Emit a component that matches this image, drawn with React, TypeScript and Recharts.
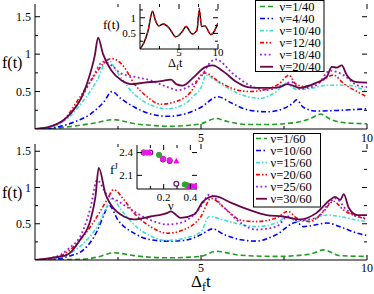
import React from 'react';
import { LineChart, Line, XAxis, YAxis, ScatterChart, Scatter } from 'recharts';

type Pt = { x: number; y: number };
const pts = (a: number[][]): Pt[] => a.map(([x, y]) => ({ x, y }));

// upper panel, nu = n/40
const top1 = pts([[0,0],[0.6,0.01],[1.2,0.04],[1.8,0.08],[2.37,0.125],[2.7,0.1],[3.0,0.07],[3.5,0.05],[4.0,0.036],[4.5,0.045],[5.0,0.07],[5.45,0.14],[5.8,0.1],[6.4,0.06],[7.0,0.06],[7.5,0.07],[8.0,0.1],[8.3,0.14],[8.6,0.2],[8.9,0.13],[9.2,0.09],[9.6,0.075],[10,0.07]]);
const top4 = pts([[0,0],[0.6,0.02],[1.16,0.09],[1.67,0.2],[2.07,0.36],[2.32,0.5],[2.58,0.41],[3.0,0.29],[3.5,0.2],[4.0,0.17],[4.5,0.2],[5.0,0.29],[5.5,0.43],[5.95,0.34],[6.46,0.25],[7.0,0.23],[7.47,0.27],[7.75,0.34],[7.88,0.39],[8.08,0.29],[8.48,0.24],[9.2,0.25],[10,0.27]]);
const top10 = pts([[0,0],[0.6,0.04],[1.0,0.15],[1.46,0.38],[1.87,0.65],[2.19,0.93],[2.47,0.76],[2.98,0.47],[3.48,0.32],[3.99,0.27],[4.49,0.33],[4.8,0.45],[5.0,0.55],[5.15,0.72],[5.4,0.66],[5.76,0.56],[6.26,0.45],[6.77,0.41],[7.27,0.5],[7.55,0.61],[7.88,0.53],[8.28,0.54],[8.79,0.585],[9.39,0.585],[10,0.5]]);
const top12 = pts([[0,0],[0.5,0.04],[0.86,0.12],[1.36,0.43],[1.77,0.7],[2.07,0.88],[2.32,0.94],[2.68,0.83],[2.98,0.61],[3.38,0.43],[3.79,0.33],[4.19,0.36],[4.7,0.5],[5.0,0.72],[5.1,0.75],[5.55,0.63],[5.95,0.54],[6.46,0.5],[6.97,0.53],[7.37,0.61],[7.65,0.72],[7.83,0.61],[8.08,0.57],[8.58,0.63],[8.99,0.72],[9.29,0.61],[9.7,0.5],[10,0.43]]);
const top18 = pts([[0,0],[0.6,0.05],[1.0,0.17],[1.4,0.42],[1.75,0.7],[2.05,0.9],[2.3,0.85],[2.6,0.74],[2.98,0.7],[3.48,0.65],[3.99,0.56],[4.3,0.52],[4.6,0.56],[5.0,0.7],[5.3,0.9],[5.45,0.93],[5.96,0.74],[6.46,0.585],[6.97,0.52],[7.47,0.585],[7.72,0.63],[7.98,0.54],[8.48,0.585],[8.89,0.78],[9.29,0.72],[9.7,0.585],[10,0.56]]);
const top20 = pts([[0,0],[0.5,0.04],[0.8,0.1],[1.1,0.22],[1.4,0.42],[1.65,0.72],[1.8,0.98],[1.9,1.22],[2.05,1.0],[2.3,0.78],[2.6,0.65],[2.9,0.6],[3.3,0.62],[3.8,0.64],[4.1,0.66],[4.25,0.6],[4.45,0.58],[4.8,0.7],[5.1,0.82],[5.35,0.85],[5.7,0.76],[6.06,0.63],[6.4,0.56],[6.67,0.55],[7.1,0.55],[7.37,0.56],[7.6,0.6],[7.98,0.55],[8.48,0.62],[8.79,0.7],[8.94,0.83],[9.09,0.82],[9.24,0.85],[9.39,0.72],[9.65,0.63],[10,0.62]]);

// lower panel, nu = n/60
const bot1 = pts([[0,0],[1.0,0.005],[1.46,0.01],[1.87,0.04],[2.37,0.1],[2.98,0.06],[3.99,0.03],[5.0,0.05],[5.45,0.12],[6.2,0.065],[7.27,0.05],[8.28,0.08],[8.69,0.14],[9.18,0.06],[10,0.05]]);
const bot10 = pts([[0,0],[0.6,0.01],[1.0,0.05],[1.46,0.14],[1.87,0.4],[2.1,0.65],[2.22,0.76],[2.5,0.55],[2.98,0.37],[3.48,0.28],[3.99,0.26],[4.49,0.27],[5.0,0.35],[5.35,0.43],[5.7,0.35],[6.2,0.28],[6.66,0.26],[7.27,0.35],[7.88,0.52],[8.08,0.46],[8.28,0.47],[8.79,0.51],[9.29,0.44],[9.7,0.37],[10,0.34]]);
const bot15 = pts([[0,0],[0.6,0.02],[1.0,0.08],[1.46,0.23],[1.87,0.46],[2.17,0.74],[2.32,0.85],[2.58,0.7],[2.98,0.49],[3.48,0.33],[3.99,0.27],[4.49,0.3],[5.0,0.39],[5.25,0.6],[5.7,0.55],[6.2,0.49],[6.66,0.46],[7.27,0.51],[7.62,0.6],[7.88,0.53],[8.28,0.55],[8.79,0.62],[9.18,0.6],[9.7,0.55],[10,0.53]]);
const bot20 = pts([[0,0],[0.6,0.03],[1.0,0.12],[1.46,0.33],[1.87,0.6],[2.17,0.83],[2.37,0.97],[2.68,0.83],[2.98,0.65],[3.48,0.46],[3.99,0.37],[4.49,0.42],[5.0,0.6],[5.3,0.85],[5.7,0.72],[6.2,0.55],[6.66,0.53],[7.27,0.58],[7.62,0.67],[7.88,0.58],[8.28,0.53],[8.69,0.67],[8.99,0.81],[9.29,0.69],[9.7,0.6],[10,0.56]]);
const bot25 = pts([[0,0],[0.6,0.04],[1.0,0.15],[1.46,0.42],[1.67,0.72],[1.87,1.1],[2.17,0.9],[2.47,0.82],[2.98,0.67],[3.48,0.55],[3.99,0.49],[4.49,0.53],[5.0,0.74],[5.25,0.9],[5.7,0.72],[6.2,0.51],[6.66,0.42],[7.27,0.46],[7.62,0.6],[7.88,0.55],[8.48,0.58],[8.89,0.8],[9.04,0.85],[9.39,0.69],[9.7,0.6],[10,0.58]]);
const bot30 = pts([[0,0],[0.5,0.03],[0.96,0.07],[1.36,0.28],[1.67,0.55],[1.82,0.87],[1.92,1.27],[2.13,0.9],[2.32,0.74],[2.68,0.6],[2.98,0.56],[3.48,0.6],[3.99,0.65],[4.09,0.67],[4.39,0.58],[4.8,0.63],[5.05,0.8],[5.4,0.88],[5.95,0.78],[6.46,0.69],[6.97,0.62],[7.47,0.6],[7.98,0.56],[8.48,0.65],[8.89,0.83],[9.04,0.87],[9.2,0.83],[9.3,0.91],[9.45,0.72],[9.7,0.62],[10,0.62]]);

// inset of the upper panel
const insetExact = pts([[0,0],[0.5,0.2],[1.0,0.55],[1.6,1.2],[2.0,0.9],[2.4,0.74],[3.0,0.8],[3.7,0.68],[4.6,0.39],[5.4,0.55],[5.9,0.72],[6.7,0.48],[7.3,0.6],[7.6,1.25],[7.9,0.72],[8.3,0.74],[9.1,0.46],[10,0.83]]);
const insetApprox = pts([[0,0],[0.5,0.2],[1.0,0.55],[1.6,1.21],[2.0,0.9],[2.4,0.74],[3.0,0.8],[3.7,0.68],[4.6,0.39],[5.4,0.55],[5.9,0.72],[6.7,0.48],[7.3,0.6],[7.6,1.3],[7.9,0.72],[8.3,0.74],[9.1,0.46],[10,0.83]]);

// inset of the lower panel: f^J against nu
const fjFilled = pts([[0.05,2.4],[0.075,2.4],[0.195,2.32],[0.245,2.3],[0.4,1.96],[0.445,1.96]]);
const fjOpen = pts([[0.05,2.4],[0.1,2.4],[0.195,2.31],[0.245,2.29],[0.295,1.99],[0.45,1.96]]);
const fjGreen = pts([[0.165,2.37],[0.358,1.98],[0.375,1.97]]);
const fjTriangle = pts([[0.095,2.4],[0.295,2.29],[0.39,1.95],[0.42,1.96]]);

const topLabels = ['1/40', '4/40', '10/40', '12/40', '18/40', '20/40'];
const botLabels = ['1/60', '10/60', '15/60', '20/60', '25/60', '30/60'];

const styles = [
  { color: '#1f9e1f', dash: '5 3', width: 1.6 },
  { color: '#0000ff', dash: '5 2.5 1.5 2.5', width: 1.6 },
  { color: '#40e0d0', dash: '4 2 1.5 2', width: 1.6 },
  { color: '#ff0000', dash: '4 2 1.5 2 1.5 2', width: 1.6 },
  { color: '#9a1ee0', dash: '1.8 2.6', width: 1.8 },
  { color: '#670748', dash: undefined, width: 1.8 },
];

const topSeries = [top1, top4, top10, top12, top18, top20];
const botSeries = [bot1, bot10, bot15, bot20, bot25, bot30];

const FONT = '"Liberation Serif", "DejaVu Serif", serif';

const xTick = (pTop: number, pBot: number, labels: number[], labelY: number, fs: number) => (p: any) => {
  const v = p.payload.value;
  const major = labels.includes(v);
  const len = major ? 5 : 3;
  return (
    <g>
      <line x1={p.x} x2={p.x} y1={pBot} y2={pBot - len} stroke="#000" />
      <line x1={p.x} x2={p.x} y1={pTop} y2={pTop + len} stroke="#000" />
      {major && (
        <text x={p.x} y={labelY} textAnchor="middle" fontSize={fs} fontFamily={FONT} fill="#000">{v}</text>
      )}
    </g>
  );
};

const yTick = (pLeft: number, pRight: number, labels: number[], fs: number) => (p: any) => {
  const v = p.payload.value;
  const major = labels.includes(v);
  const len = major ? 5 : 3;
  return (
    <g>
      <line x1={pLeft} x2={pLeft + len} y1={p.y} y2={p.y} stroke="#000" />
      <line x1={pRight} x2={pRight - len} y1={p.y} y2={p.y} stroke="#000" />
      {major && (
        <text x={pLeft - 4} y={p.y + fs * 0.35} textAnchor="end" fontSize={fs} fontFamily={FONT} fill="#000">{v}</text>
      )}
    </g>
  );
};

function Panel({ series, yMax, height, xAxisH, labelY }: { series: Pt[][]; yMax: number; height: number; xAxisH: number; labelY: number }) {
  const pTop = 4;
  const pBot = height - xAxisH;
  return (
    <LineChart width={374} height={height} margin={{ top: pTop, right: 7, left: 0, bottom: 0 }}>
      <XAxis type="number" dataKey="x" domain={[0, 10]} ticks={[2.5, 5, 7.5, 10]} interval={0} height={xAxisH}
        allowDataOverflow axisLine={{ stroke: '#000' }} tickLine={false} tick={xTick(pTop, pBot, [5, 10], labelY, 12)} />
      <XAxis xAxisId="top" orientation="top" type="number" domain={[0, 10]} height={0} tick={false} tickLine={false}
        axisLine={{ stroke: '#000' }} />
      <YAxis type="number" domain={[0, yMax]} ticks={[0.25, 0.5, 0.75, 1, 1.25, 1.5]} interval={0} width={35}
        allowDataOverflow axisLine={{ stroke: '#000' }} tickLine={false} tick={yTick(35, 367, [0.5, 1, 1.5], 12)} />
      <YAxis yAxisId="right" orientation="right" type="number" domain={[0, yMax]} width={0} tick={false}
        tickLine={false} axisLine={{ stroke: '#000' }} />
      {series.map((d, i) => (
        <Line key={i} data={d} dataKey="y" type="monotone" dot={false} isAnimationActive={false}
          stroke={styles[i].color} strokeWidth={styles[i].width} strokeDasharray={styles[i].dash} />
      ))}
    </LineChart>
  );
}

function TopInset() {
  return (
    <LineChart width={130} height={70} margin={{ top: 4, right: 12, left: 0, bottom: 0 }}>
      <XAxis type="number" dataKey="x" domain={[0, 10]} ticks={[2.5, 5, 7.5, 10]} interval={0} height={21}
        allowDataOverflow axisLine={{ stroke: '#000' }} tickLine={false} tick={xTick(4, 49, [5, 10], 56, 11)} />
      <XAxis xAxisId="top" orientation="top" type="number" domain={[0, 10]} height={0} tick={false} tickLine={false}
        axisLine={{ stroke: '#000' }} />
      <YAxis type="number" domain={[0, 1.44]} ticks={[0.25, 0.5, 0.75, 1, 1.25]} interval={0} width={40}
        allowDataOverflow axisLine={{ stroke: '#000' }} tickLine={false} tick={yTick(40, 118, [0.5, 1], 11)} />
      <YAxis yAxisId="right" orientation="right" type="number" domain={[0, 1.44]} width={0} tick={false}
        tickLine={false} axisLine={{ stroke: '#000' }} />
      <Line data={insetExact} dataKey="y" type="monotone" dot={false} isAnimationActive={false} stroke="#000" strokeWidth={1.4} />
      <Line data={insetApprox} dataKey="y" type="monotone" dot={false} isAnimationActive={false} stroke="#ff0000"
        strokeWidth={1.3} strokeDasharray="3 2.5" />
    </LineChart>
  );
}

const filledDot = (c: string) => (p: any) => <circle cx={p.cx} cy={p.cy} r={2.6} fill={c} stroke={c} />;
const openDot = (p: any) => <circle cx={p.cx} cy={p.cy} r={2.4} fill="none" stroke="#7a1060" strokeWidth={1.2} />;
const triDot = (p: any) => (
  <path d={`M${p.cx},${p.cy - 3.2}L${p.cx + 3},${p.cy + 2.2}L${p.cx - 3},${p.cy + 2.2}Z`} fill="#ff00ff" />
);

function BottomInset() {
  return (
    <ScatterChart width={112} height={70} margin={{ top: 5, right: 10, left: 0, bottom: 0 }}>
      <XAxis type="number" dataKey="x" domain={[0, 0.45]} ticks={[0.1, 0.2, 0.3, 0.4]} interval={0} height={21}
        allowDataOverflow axisLine={{ stroke: '#000' }} tickLine={false} tick={xTick(5, 49, [0.2, 0.4], 61, 11)} />
      <XAxis xAxisId="top" orientation="top" type="number" domain={[0, 0.45]} height={0} tick={false} tickLine={false}
        axisLine={{ stroke: '#000' }} />
      <YAxis type="number" dataKey="y" domain={[1.92, 2.5]} ticks={[2.1, 2.4]} interval={0} width={42}
        allowDataOverflow axisLine={{ stroke: '#000' }} tickLine={false} tick={yTick(42, 102, [2.1, 2.4], 11)} />
      <YAxis yAxisId="right" orientation="right" type="number" domain={[1.92, 2.5]} width={0} tick={false}
        tickLine={false} axisLine={{ stroke: '#000' }} />
      <Scatter data={fjOpen} isAnimationActive={false} shape={openDot} />
      <Scatter data={fjFilled} isAnimationActive={false} shape={filledDot('#e020e0')} />
      <Scatter data={fjGreen} isAnimationActive={false} shape={filledDot('#30a030')} />
      <Scatter data={fjTriangle} isAnimationActive={false} shape={triDot} />
    </ScatterChart>
  );
}

function LegendBox({ x, y, w, h, labels, lx0, lx1, tx, y0 }: any) {
  return (
    <g>
      <rect x={x} y={y} width={w} height={h} fill="#fff" stroke="#000" />
      {labels.map((lab: string, i: number) => {
        const cy = y0 + i * 12.05;
        const s = styles[i];
        return (
          <g key={lab}>
            <line x1={lx0} x2={lx1} y1={cy} y2={cy} stroke={s.color} strokeWidth={s.width} strokeDasharray={s.dash} />
            <text x={tx} y={cy + 4.2} fontSize={12.5} fontFamily={FONT} fill="#000">{'\u03bd=' + lab}</text>
          </g>
        );
      })}
    </g>
  );
}

export default function App() {
  return (
    <div style={{ position: 'absolute', left: 0, top: 0, width: 374, height: 294, background: '#fff', overflow: 'hidden', fontFamily: FONT }}>
      <div style={{ position: 'absolute', left: 0, top: 0 }}>
        <Panel series={topSeries} yMax={1.67} height={147} xAxisH={18} labelY={141.5} />
      </div>
      <div style={{ position: 'absolute', left: 0, top: 140 }}>
        <Panel series={botSeries} yMax={1.6} height={154} xAxisH={34} labelY={132} />
      </div>
      <div style={{ position: 'absolute', left: 140, top: 4, width: 78, height: 45, background: '#fff' }} />
      <div style={{ position: 'absolute', left: 100, top: 0 }}>
        <TopInset />
      </div>
      <div style={{ position: 'absolute', left: 137, top: 145, width: 60, height: 44, background: '#fff' }} />
      <div style={{ position: 'absolute', left: 95, top: 140 }}>
        <BottomInset />
      </div>
      <svg width={374} height={294} style={{ position: 'absolute', left: 0, top: 0, pointerEvents: 'none' }}>
        <text x={2} y={67.5} fontSize={16} fontFamily={FONT}>f(t)</text>
        <text x={2} y={198} fontSize={16} fontFamily={FONT}>f(t)</text>
        <text x={191} y={287} fontSize={17} fontFamily={FONT}>Δ<tspan fontSize={12} dy={4}>f</tspan><tspan dy={-4}>t</tspan></text>
        <text x={103} y={29} fontSize={13} fontFamily={FONT}>f(t)</text>
        <text x={168} y={67} fontSize={12.5} fontFamily={FONT}>Δ<tspan fontSize={9} dy={3}>f</tspan><tspan dy={-3}>t</tspan></text>
        <text x={110} y={174} fontSize={13} fontFamily={FONT}>f<tspan fontSize={9} dy={-5}>J</tspan></text>
        <text x={168} y={210} fontSize={12.5} fontFamily={FONT}>ν</text>
        <LegendBox x={255.5} y={0.5} w={68.5} h={71} labels={topLabels} lx0={260} lx1={273} tx={279.5} y0={6.5} />
        <LegendBox x={253.5} y={133.5} w={67} h={73.5} labels={botLabels} lx0={256} lx1={267} tx={270.5} y0={138.5} />
      </svg>
    </div>
  );
}
